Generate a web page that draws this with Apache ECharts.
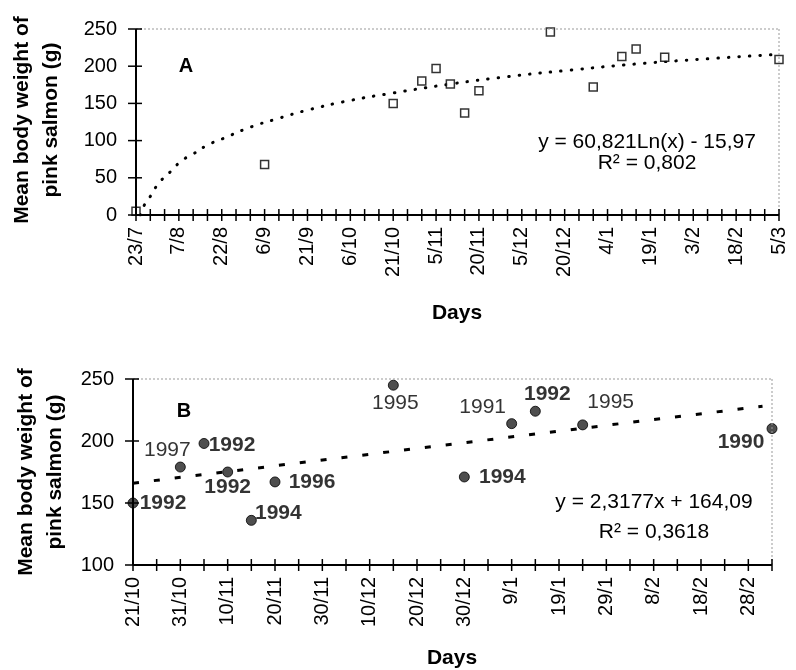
<!DOCTYPE html>
<html>
<head>
<meta charset="utf-8">
<script src="https://cdn.jsdelivr.net/npm/echarts@6/dist/echarts.min.js"></script>
<style>
  html, body { margin: 0; background: #fff; }
  #chart { width: 796px; height: 670px; }
</style>
</head>
<body>
<div id="chart"></div>
<script>
// panel A: days counted from 23/7
const daysA = [0, 45, 90, 100, 105, 110, 115, 120, 145, 160, 170, 175, 185, 225]
const weightA = [5, 68, 150, 180, 197, 176, 137, 167, 246, 172, 213, 223, 212, 209]
const ticksA = ['23/7', '7/8', '22/8', '6/9', '21/9', '6/10', '21/10', '5/11', '20/11', '5/12', '20/12', '4/1', '19/1', '3/2', '18/2', '5/3']
// log trendline
const trendDaysA = [1.5, 3, 5, 8, 12, 16, 20, 25, 30, 40, 50, 60, 75, 90, 110, 130, 150, 175, 200, 225]
const trendA = [0, 14, 25, 43, 58, 73, 82, 94, 102, 118, 130, 141, 154, 164, 176, 186, 194, 203, 210, 216]

// panel B: days counted from 21/10
const daysB = [0, 10, 15, 20, 25, 30, 55, 70, 80, 85, 95, 135]
const weightB = [150, 179, 198, 175, 136, 167, 245, 171, 214, 224, 213, 210]
const yearsB = ['1992', '1997', '1992', '1992', '1994', '1996', '1995', '1994', '1991', '1992', '1995', '1990']
const boldB = [true, false, true, true, true, true, false, true, false, true, false, true]
const ticksB = ['21/10', '31/10', '10/11', '20/11', '30/11', '10/12', '20/12', '30/12', '9/1', '19/1', '29/1', '8/2', '18/2', '28/2']
const trendDaysB = [0, 133]
const trendB = [166, 228]

const FONT = "'Liberation Sans', Arial, sans-serif"
const Y_NAME = 'Mean body weight of\npink salmon (g)'
// where each year label sits relative to its dot
const labelOffsetB = [[30, 0], [-13, -17], [28, 2], [0, 15], [27, -7], [37, 0], [2, 18], [38, 0], [-29, -16], [12, -17], [28, -23], [-31, 14]]

// axis lines and ticks did not show up from the axis component in this setup,
// so the frame is drawn below from the axes' own scales (convertToPixel)
function xAxis(grid, max, step, ticks) {
  return {
    type: 'value', gridIndex: grid, min: 0, max, interval: 5,
    splitLine: { show: false },
    axisLine: { show: false },
    axisTick: { show: false },
    axisLabel: {
      rotate: 90, margin: 12, fontSize: 20, color: '#000', fontFamily: FONT,
      formatter: v => (v % step === 0 && ticks[v / step]) || ''
    }
  }
}

function yAxis(grid, min) {
  return {
    type: 'value', gridIndex: grid, min, max: 250, interval: 50,
    splitLine: { show: false },
    axisLine: { show: false },
    axisTick: { show: false },
    axisLabel: { margin: 19, fontSize: 20, color: '#000', fontFamily: FONT }
  }
}

function text(x, y, str, size, weight, rotation) {
  return {
    type: 'text', x, y, rotation: rotation || 0, z: 100,
    style: {
      text: str, fill: '#000', fontSize: size, fontWeight: weight || 'normal', fontFamily: FONT,
      lineHeight: 29,
      align: 'center', verticalAlign: 'middle', textAlign: 'center', textVerticalAlign: 'middle'
    }
  }
}

const chart = echarts.init(document.getElementById('chart'))
chart.setOption({
  animation: false,
  backgroundColor: '#fff',
  grid: [
    { left: 136, top: 29, width: 643, height: 186 },
    { left: 133, top: 379, width: 639, height: 186 }
  ],
  xAxis: [xAxis(0, 225, 15, ticksA), xAxis(1, 135, 10, ticksB)],
  yAxis: [yAxis(0, 0), yAxis(1, 100)],
  series: [
    {
      type: 'line', xAxisIndex: 0, yAxisIndex: 0,
      data: trendDaysA.map((d, i) => [d, trendA[i]]),
      smooth: true, showSymbol: false, silent: true,
      lineStyle: { color: '#000', width: 3, type: [0.5, 10], cap: 'round' }
    },
    {
      type: 'scatter', xAxisIndex: 0, yAxisIndex: 0,
      data: daysA.map((d, i) => [d, weightA[i]]),
      symbol: 'rect', symbolSize: 8, z: 5,
      itemStyle: { color: '#fff', borderColor: '#000', borderWidth: 1.5 }
    },
    {
      type: 'line', xAxisIndex: 1, yAxisIndex: 1,
      data: trendDaysB.map((d, i) => [d, trendB[i]]),
      showSymbol: false, silent: true,
      lineStyle: { color: '#000', width: 3, type: [6, 15] }
    },
    {
      type: 'scatter', xAxisIndex: 1, yAxisIndex: 1,
      data: daysB.map((d, i) => ({
        value: [d, weightB[i]],
        label: { formatter: yearsB[i], fontWeight: boldB[i] ? 'bold' : 'normal', offset: labelOffsetB[i] }
      })),
      symbol: 'circle', symbolSize: 10, z: 5,
      itemStyle: { color: '#222', borderColor: '#000', borderWidth: 1 },
      label: {
        show: true, position: 'inside', align: 'center', verticalAlign: 'middle',
        fontSize: 21, color: '#000', fontFamily: FONT, textBorderWidth: 0
      }
    }
  ]
})

function seg(x1, y1, x2, y2, style) {
  return { type: 'line', z: 90, silent: true, shape: { x1, y1, x2, y2 }, style: { ...style } }
}

const AXIS = { stroke: '#000', lineWidth: 2 }
const TICK = { stroke: '#000', lineWidth: 1.5 }
const DOTTED = { stroke: '#999', lineWidth: 1, lineDash: [2, 2] }

// axis lines, crossing ticks and the dotted top/right border of one panel
function frame(grid, xMax, yMin) {
  const px = (x, y) => chart.convertToPixel({ gridIndex: grid }, [x, y])
  const [left, bottom] = px(0, yMin)
  const [right, top] = px(xMax, 250)
  const els = [
    seg(left, top, right, top, DOTTED),
    seg(right, top, right, bottom, DOTTED),
    seg(left, bottom, right, bottom, AXIS),
    seg(left, bottom, left, top, AXIS)
  ]
  for (let v = 0; v <= xMax; v += 5) {
    const x = px(v, yMin)[0]
    els.push(seg(x, bottom - 6, x, bottom + 6, TICK))
  }
  for (let v = yMin; v <= 250; v += 50) {
    const y = px(0, v)[1]
    els.push(seg(left - 8, y, left + 6, y, TICK))
  }
  return els
}

chart.setOption({
  graphic: [
    text(37, 120, Y_NAME, 21, 'bold', Math.PI / 2),
    text(457, 313, 'Days', 21, 'bold'),
    text(186, 66, 'A', 20, 'bold'),
    text(647, 142, 'y = 60,821Ln(x) - 15,97', 21),
    text(647, 163, 'R² = 0,802', 21),
    text(41, 472, Y_NAME, 21, 'bold', Math.PI / 2),
    text(452, 658, 'Days', 21, 'bold'),
    text(184, 411, 'B', 20, 'bold'),
    text(654, 502, 'y = 2,3177x + 164,09', 21),
    text(654, 532, 'R² = 0,3618', 21),
    ...frame(0, 225, 0),
    ...frame(1, 135, 100)
  ]
})
</script>
</body>
</html>
